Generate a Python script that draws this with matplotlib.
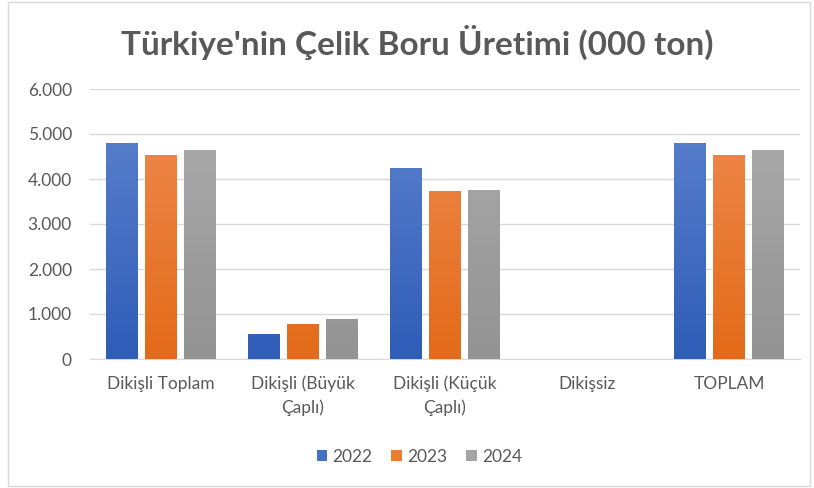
import numpy as np
import matplotlib.pyplot as plt
from matplotlib.colors import LinearSegmentedColormap
from matplotlib.patches import Rectangle

plt.rcParams['font.family'] = ['Lato', 'DejaVu Sans']

categories = ["Dikişli Toplam", "Dikişli (Büyük\nÇaplı)", "Dikişli (Küçük\nÇaplı)", "Dikişsiz", "TOPLAM"]
years = ["2022", "2023", "2024"]
v2022 = [4790, 555, 4245, 8, 4798]
v2023 = [4535, 775, 3735, 8, 4543]
v2024 = [4645, 890, 3755, 8, 4653]
series = [v2022, v2023, v2024]

base_colors = ["#4472C4", "#ED7D31", "#A5A5A5"]
grad = [("#2F5DB7", "#5E84CF"), ("#E36B19", "#F08C53"), ("#939393", "#ADADAD")]

fig = plt.figure(figsize=(8.14, 4.88), dpi=100)
ax = fig.add_axes([90 / 814, 1 - 359 / 488, 710 / 814, 270 / 488])

x = np.arange(len(categories))
w = 0.225
step = 0.275
for i, (vals, (c0, c1)) in enumerate(zip(series, grad)):
    bars = ax.bar(x + (i - 1) * step, vals, w, color=base_colors[i], label=years[i], zorder=2)
    cmap = LinearSegmentedColormap.from_list("g%d" % i, [c0, c1])
    for b in bars:
        bx, by = b.get_x(), b.get_y()
        bw, bh = b.get_width(), b.get_height()
        im = ax.imshow(np.linspace(0, 1, 100).reshape(-1, 1), cmap=cmap, origin="lower",
                       extent=[bx, bx + bw, 0, 6000], aspect="auto", zorder=3)
        clip = Rectangle((bx, by), bw, bh, transform=ax.transData)
        im.set_clip_path(clip)

ax.set_xlim(-0.5, len(categories) - 0.5)
ax.set_ylim(0, 6000)
ax.set_yticks(range(0, 7000, 1000))
ax.set_yticklabels(["0", "1.000", "2.000", "3.000", "4.000", "5.000", "6.000"])
ax.set_xticks(x)
ax.set_xticklabels(categories, linespacing=1.5)
ax.grid(axis="y", color="#D9D9D9", linewidth=1, zorder=0)
for s in ["top", "right", "left"]:
    ax.spines[s].set_visible(False)
ax.spines["bottom"].set_color("#D9D9D9")
ax.tick_params(axis="both", length=0, colors="#595959", labelsize=12.5)
ax.tick_params(axis="x", pad=12)
ax.tick_params(axis="y", pad=13)

fig.text(0.513, 1 - 42 / 488, "Türkiye'nin Çelik Boru Üretimi (000 ton)", ha="center", va="center",
         fontsize=24, fontweight="bold", color="#595959")

leg = fig.legend(loc="center", bbox_to_anchor=(0.515, 1 - 457 / 488), ncol=3, frameon=False,
                 fontsize=12.5, handlelength=0.6, handleheight=0.6, handletextpad=0.3, columnspacing=1.1)
for t in leg.get_texts():
    t.set_color("#595959")

fig.patches.append(Rectangle((8 / 814, 2 / 488), 802 / 814, 484 / 488, transform=fig.transFigure,
                             fill=False, edgecolor="#D9D9D9", linewidth=1))

fig.savefig("out.png", dpi=100)
